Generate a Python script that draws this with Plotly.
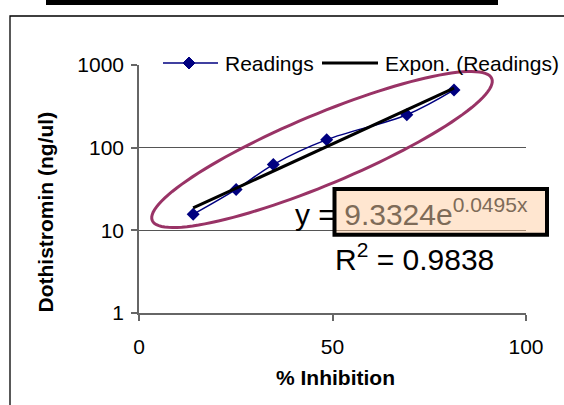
import numpy as np
import plotly.graph_objects as go

# Standard curve readings
inhibition = [14.0, 25.1, 34.7, 48.5, 69.2, 81.4]          # % Inhibition
dothistromin = [15.625, 31.25, 62.5, 125, 250, 500]        # ng/ul

# Exponential trendline y = A * exp(B * x) and its fit quality
fit_a = 9.3324
fit_b = 0.0495
fit_r2 = 0.9838

y_ticks = [1, 10, 100, 1000]
y_ticklabels = ["1", "10", "100", "1000"]
x_ticks = [0, 50, 100]

FONT = "Liberation Sans, Arial, sans-serif"

# Plot-area geometry in pixels (figure is 564 x 405)
W_FIG, H_FIG = 564, 405
L, R, T, B = 139, 526, 65, 313


def px(xp):
    return (xp - L) / (R - L)


def py(yp):
    return (B - yp) / (B - T)


trend_x = np.linspace(min(inhibition), max(inhibition), 60)
trend_y = fit_a * np.exp(fit_b * trend_x)

fig = go.Figure()
fig.add_trace(go.Scatter(
    x=inhibition, y=dothistromin, mode="lines+markers", name="Readings",
    line=dict(color="#000080", width=1.5, shape="spline", smoothing=1.0),
    marker=dict(symbol="diamond", size=10, color="#000080"),
    showlegend=False,
))
fig.add_trace(go.Scatter(
    x=trend_x, y=trend_y, mode="lines", name="Expon. (Readings)",
    line=dict(color="black", width=3),
    showlegend=False,
))

shapes = []
# outer chart frame
shapes.append(dict(type="rect", xref="paper", yref="paper",
                   x0=px(10), x1=px(620), y0=py(16), y1=py(460),
                   line=dict(color="black", width=1.3), layer="below"))
# title underline bar
shapes.append(dict(type="rect", xref="paper", yref="paper",
                   x0=px(46), x1=px(498), y0=py(0), y1=py(5),
                   fillcolor="black", line=dict(width=0)))
# legend background
shapes.append(dict(type="rect", xref="paper", yref="paper",
                   x0=px(155), x1=px(620), y0=py(52), y1=py(75),
                   fillcolor="white", line=dict(width=0), layer="above"))
# legend: Readings
shapes.append(dict(type="line", xref="paper", yref="paper",
                   x0=px(163), x1=px(218), y0=py(63), y1=py(63),
                   line=dict(color="#000080", width=1.5), layer="above"))
cx, cy, hw = 189, 63, 6
shapes.append(dict(type="path", xref="paper", yref="paper",
                   path=f"M{px(cx - hw)},{py(cy)} L{px(cx)},{py(cy - hw)} "
                        f"L{px(cx + hw)},{py(cy)} L{px(cx)},{py(cy + hw)} Z",
                   fillcolor="#000080", line=dict(color="#000080", width=1),
                   layer="above"))
# legend: trendline
shapes.append(dict(type="line", xref="paper", yref="paper",
                   x0=px(322), x1=px(378), y0=py(63), y1=py(63),
                   line=dict(color="black", width=3), layer="above"))

# highlight ellipse around the readings
ecx, ecy, ea, eb, eth = 322, 149.5, 184, 35, np.deg2rad(22.7)
t = np.linspace(0, 2 * np.pi, 121)
ex = ecx + ea * np.cos(t) * np.cos(eth) - eb * np.sin(t) * np.sin(eth)
ey = ecy - (ea * np.cos(t) * np.sin(eth) + eb * np.sin(t) * np.cos(eth))
epath = "M" + " L".join(f"{px(a):.5f},{py(b):.5f}" for a, b in zip(ex, ey)) + " Z"
shapes.append(dict(type="path", xref="paper", yref="paper", path=epath,
                   line=dict(color="#993366", width=3), layer="above"))

# equation highlight box
shapes.append(dict(type="rect", xref="paper", yref="paper",
                   x0=px(334.5), x1=px(547), y0=py(234.7), y1=py(189),
                   fillcolor="rgba(255,200,150,0.45)",
                   line=dict(color="black", width=4), layer="above"))

annotations = [
    dict(text="Readings", x=px(223), y=py(63), xref="paper", yref="paper",
         xanchor="left", yanchor="middle", showarrow=False,
         font=dict(family=FONT, size=21, color="black")),
    dict(text="Expon. (Readings)", x=px(383), y=py(63), xref="paper", yref="paper",
         xanchor="left", yanchor="middle", showarrow=False,
         font=dict(family=FONT, size=21, color="black")),
    dict(text=f"y = <span style='color:#7e6b58'>{fit_a}e<sup>{fit_b}x</sup></span>",
         x=px(293), y=py(212), xref="paper", yref="paper",
         xanchor="left", yanchor="middle", showarrow=False,
         font=dict(family=FONT, size=30, color="black")),
    dict(text=f"R<sup>2</sup> = {fit_r2}",
         x=px(333), y=py(257), xref="paper", yref="paper",
         xanchor="left", yanchor="middle", showarrow=False,
         font=dict(family=FONT, size=30, color="black")),
    dict(text="<b>Dothistromin (ng/ul)</b>", x=px(45), y=py(212.5),
         xref="paper", yref="paper", xanchor="center", yanchor="middle",
         textangle=-90, showarrow=False,
         font=dict(family=FONT, size=21, color="black")),
    dict(text="<b>% Inhibition</b>", x=px(335), y=py(377),
         xref="paper", yref="paper", xanchor="center", yanchor="middle",
         showarrow=False, font=dict(family=FONT, size=21, color="black")),
]

fig.update_layout(
    width=W_FIG, height=H_FIG,
    margin=dict(l=L, r=W_FIG - R, t=T, b=H_FIG - B, pad=0),
    paper_bgcolor="white", plot_bgcolor="white",
    shapes=shapes, annotations=annotations,
    font=dict(family=FONT, color="black"),
)
fig.update_xaxes(
    range=[0, 100], tickvals=x_ticks, showgrid=False, zeroline=False,
    showline=True, linecolor="#666666", linewidth=1.5,
    ticks="outside", ticklen=6, tickcolor="#666666", tickwidth=1.5,
    ticklabelstandoff=8,
    tickfont=dict(family=FONT, size=21, color="black"),
)
fig.update_yaxes(
    type="log", range=[0, 3], tickvals=y_ticks, ticktext=y_ticklabels,
    showgrid=True, gridcolor="#555555", gridwidth=1, zeroline=False,
    showline=True, linecolor="#666666", linewidth=1.5,
    ticks="outside", ticklen=6, tickcolor="#666666", tickwidth=1.5,
    ticklabelstandoff=3,
    tickfont=dict(family=FONT, size=21, color="black"),
)

fig.write_html("out.html")
